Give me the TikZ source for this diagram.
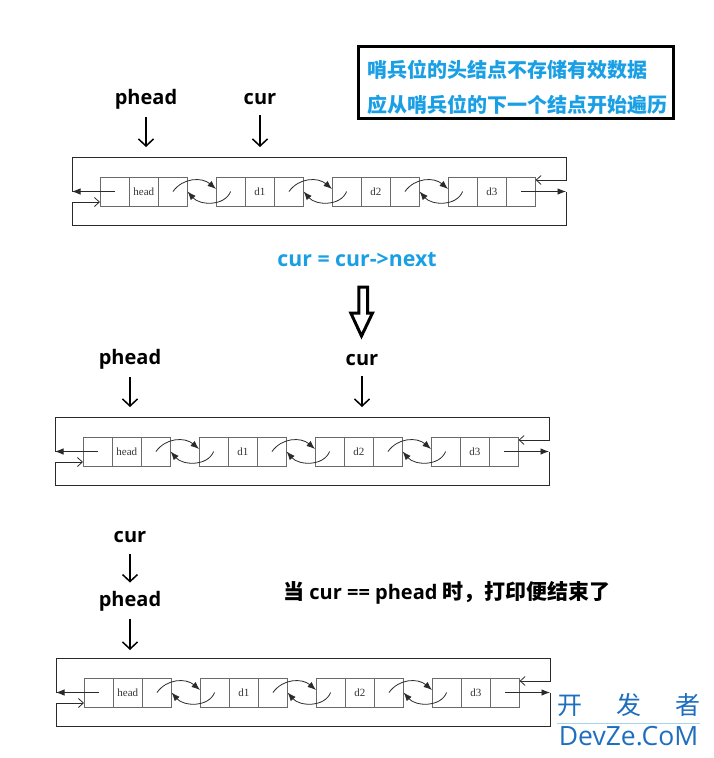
\documentclass[tikz,border=0pt]{standalone}
\usepackage{fontspec}
\setmainfont{Open Sans}
\newfontfamily\cjkfont{Noto Sans CJK SC}
\newfontfamily\cellfont{Liberation Serif}
\usepackage{tikz}
\usetikzlibrary{arrows.meta,positioning}
\definecolor{llcyan}{HTML}{1A9FE5}
\definecolor{llwire}{HTML}{2A2A2A}
\definecolor{llgrey}{HTML}{6A6A6A}
\definecolor{llmark}{HTML}{1E6EBF}
\definecolor{llmarkd}{HTML}{A8D2EE}
\newcommand{\zh}[1]{{\cjkfont\fontsize{21}{21}\selectfont #1}}
% one list element: three cells side by side
\newcommand{\llnode}[3]{%
  \node[llcell, anchor=north west] (#1-1) at (#2,0) {};
  \node[llcell, right=0pt of #1-1] (#1-2) {#3};
  \node[llcell, right=0pt of #1-2] (#1-3) {};}
% next / prev curves between two elements
\newcommand{\lllink}[2]{%
  \draw[linkfwd] (#1-3.center) .. controls +(10,-14) and +(-14,-12)
    .. ([yshift=2.5pt]#2-1.west);
  \draw[linkfwd] (#2-1.center) .. controls +(-6,15) and +(12,14) .. (#1-3.east);}
% whole circular list, #2/#3 = top left corner of the head element
\newcommand{\dlist}[3]{%
  \begin{scope}[shift={(#2,#3)}]
    \llnode{#1-head}{0}{head}
    \llnode{#1-d1}{116}{d1}
    \llnode{#1-d2}{232}{d2}
    \llnode{#1-d3}{348}{d3}
    \lllink{#1-head}{#1-d1}
    \lllink{#1-d1}{#1-d2}
    \lllink{#1-d2}{#1-d3}
    \coordinate (#1-wl) at (-28,14.5);
    \coordinate (#1-wr) at (466,14.5);
    \coordinate (#1-top) at (466,-20);
    \coordinate (#1-bot) at (-28,48);
    \draw[linkfwd] (#1-head-1.center) -- (#1-wl);
    \draw[linkopen] (#1-wl) |- (#1-top) |- ([yshift=-3pt]#1-d3-3.north east);
    \draw[linkfwd] (#1-d3-3.center) -- (#1-wr);
    \draw[linkopen] (#1-wr) |- (#1-bot) |- ([yshift=-10.5pt]#1-head-1.west);
  \end{scope}}
\tikzset{
  llcell/.style   = {draw=llgrey, line width=0.9pt, minimum width=29.2pt,
                     minimum height=29pt, inner sep=0pt, outer sep=0pt,
                     font=\cellfont\fontsize{11}{11}\selectfont, text=black!80},
  link/.style     = {draw=llwire, line width=0.8pt},
  linkfwd/.style  = {link, -{Latex[length=8.5pt,width=6.5pt]}},
  linkopen/.style = {link, -{Straight Barb[length=5pt,width=9pt]}},
  lbl/.style      = {font=\bfseries\fontsize{20}{20}\selectfont, inner sep=0pt,
                     text height=14.5pt, text depth=5pt},
  cyanlbl/.style  = {lbl, text=llcyan, font=\bfseries\fontsize{21.3}{21}\selectfont},
  ptr/.style      = {-{Straight Barb[length=7pt,width=15pt]}, line width=1.5pt},
  notetext/.style = {text width=302pt, align=left, inner sep=0pt, text=llcyan,
                     font=\cjkfont\bfseries\fontsize{20}{35}\selectfont},
  noteframe/.style= {draw, line width=3pt},
  hollow/.style   = {draw, line width=3pt, fill=white, line join=miter},
}

\begin{document}
\begin{tikzpicture}[x=1pt, y=-1pt]
  \useasboundingbox (0,0) rectangle (713,758);

  % ---- note box ----------------------------------------------------------
  \node[notetext] (note) at (518,87.5)
    {哨兵位的头结点不存储有效数据\\应从哨兵位的下一个结点开始遍历};
  \draw[noteframe] (358.5,46.5) rectangle (673.5,118.5);

  % ---- first list ---------------------------------------------------------
  \node[lbl] (t-phead) at (146,100) {phead};
  \node[lbl] (t-cur) at (260,100) {cur};
  \coordinate (t-phead-at) at (146,147);
  \coordinate (t-cur-at) at (260,147);
  \draw[ptr] ([yshift=-7.5pt]t-phead.south) -- (t-phead-at);
  \draw[ptr] ([yshift=-5.5pt]t-cur.south) -- (t-cur-at);
  \dlist{t}{100}{177}

  % ---- step ---------------------------------------------------------------
  \node[cyanlbl] (stepcode) at (357,262) {cur = cur->next};
  \draw[hollow] (358.8,287.2) -- (367.5,287.2) -- (367.5,313) -- (372.5,313)
    -- (361.5,336) -- (350.8,313) -- (358.8,313) -- cycle;

  % ---- second list --------------------------------------------------------
  \node[lbl] (m-phead) at (130,360) {phead};
  \node[lbl] (m-cur) at (362,361) {cur};
  \coordinate (m-phead-at) at (130,407);
  \coordinate (m-cur-at) at (362,407);
  \draw[ptr] ([yshift=-7.5pt]m-phead.south) -- (m-phead-at);
  \draw[ptr] ([yshift=-5.5pt]m-cur.south) -- (m-cur-at);
  \dlist{m}{83}{437}

  % ---- third list ---------------------------------------------------------
  \node[lbl] (b-cur) at (130,538) {cur};
  \node[lbl] (b-phead) at (130,602) {phead};
  \coordinate (b-phead-at) at (130,650);
  \draw[ptr] ([yshift=-6pt]b-cur.south) -- ([yshift=9.5pt]b-phead.north);
  \draw[ptr] ([yshift=-7.5pt]b-phead.south) -- (b-phead-at);
  \node[lbl] (endnote) at (447,595)
    {\zh{当} cur == phead \zh{时，打印便结束了}};
  \dlist{b}{84}{678}

  % ---- mark -----------------------------------------------------------------
  \node[font=\cjkfont\fontsize{25}{25}\selectfont, text=llmark, inner sep=0pt]
    (markzh) at (628.5,705) {开\hspace{34pt}发\hspace{34pt}者};
  \node[font=\fontsize{26.5}{26}\selectfont, text=llmark, inner sep=0pt]
    (marken) at (628.5,736) {DevZe.CoM};
  \draw[llmarkd, line width=0.8pt] (557,723) -- (700,723);

\end{tikzpicture}
\end{document}
